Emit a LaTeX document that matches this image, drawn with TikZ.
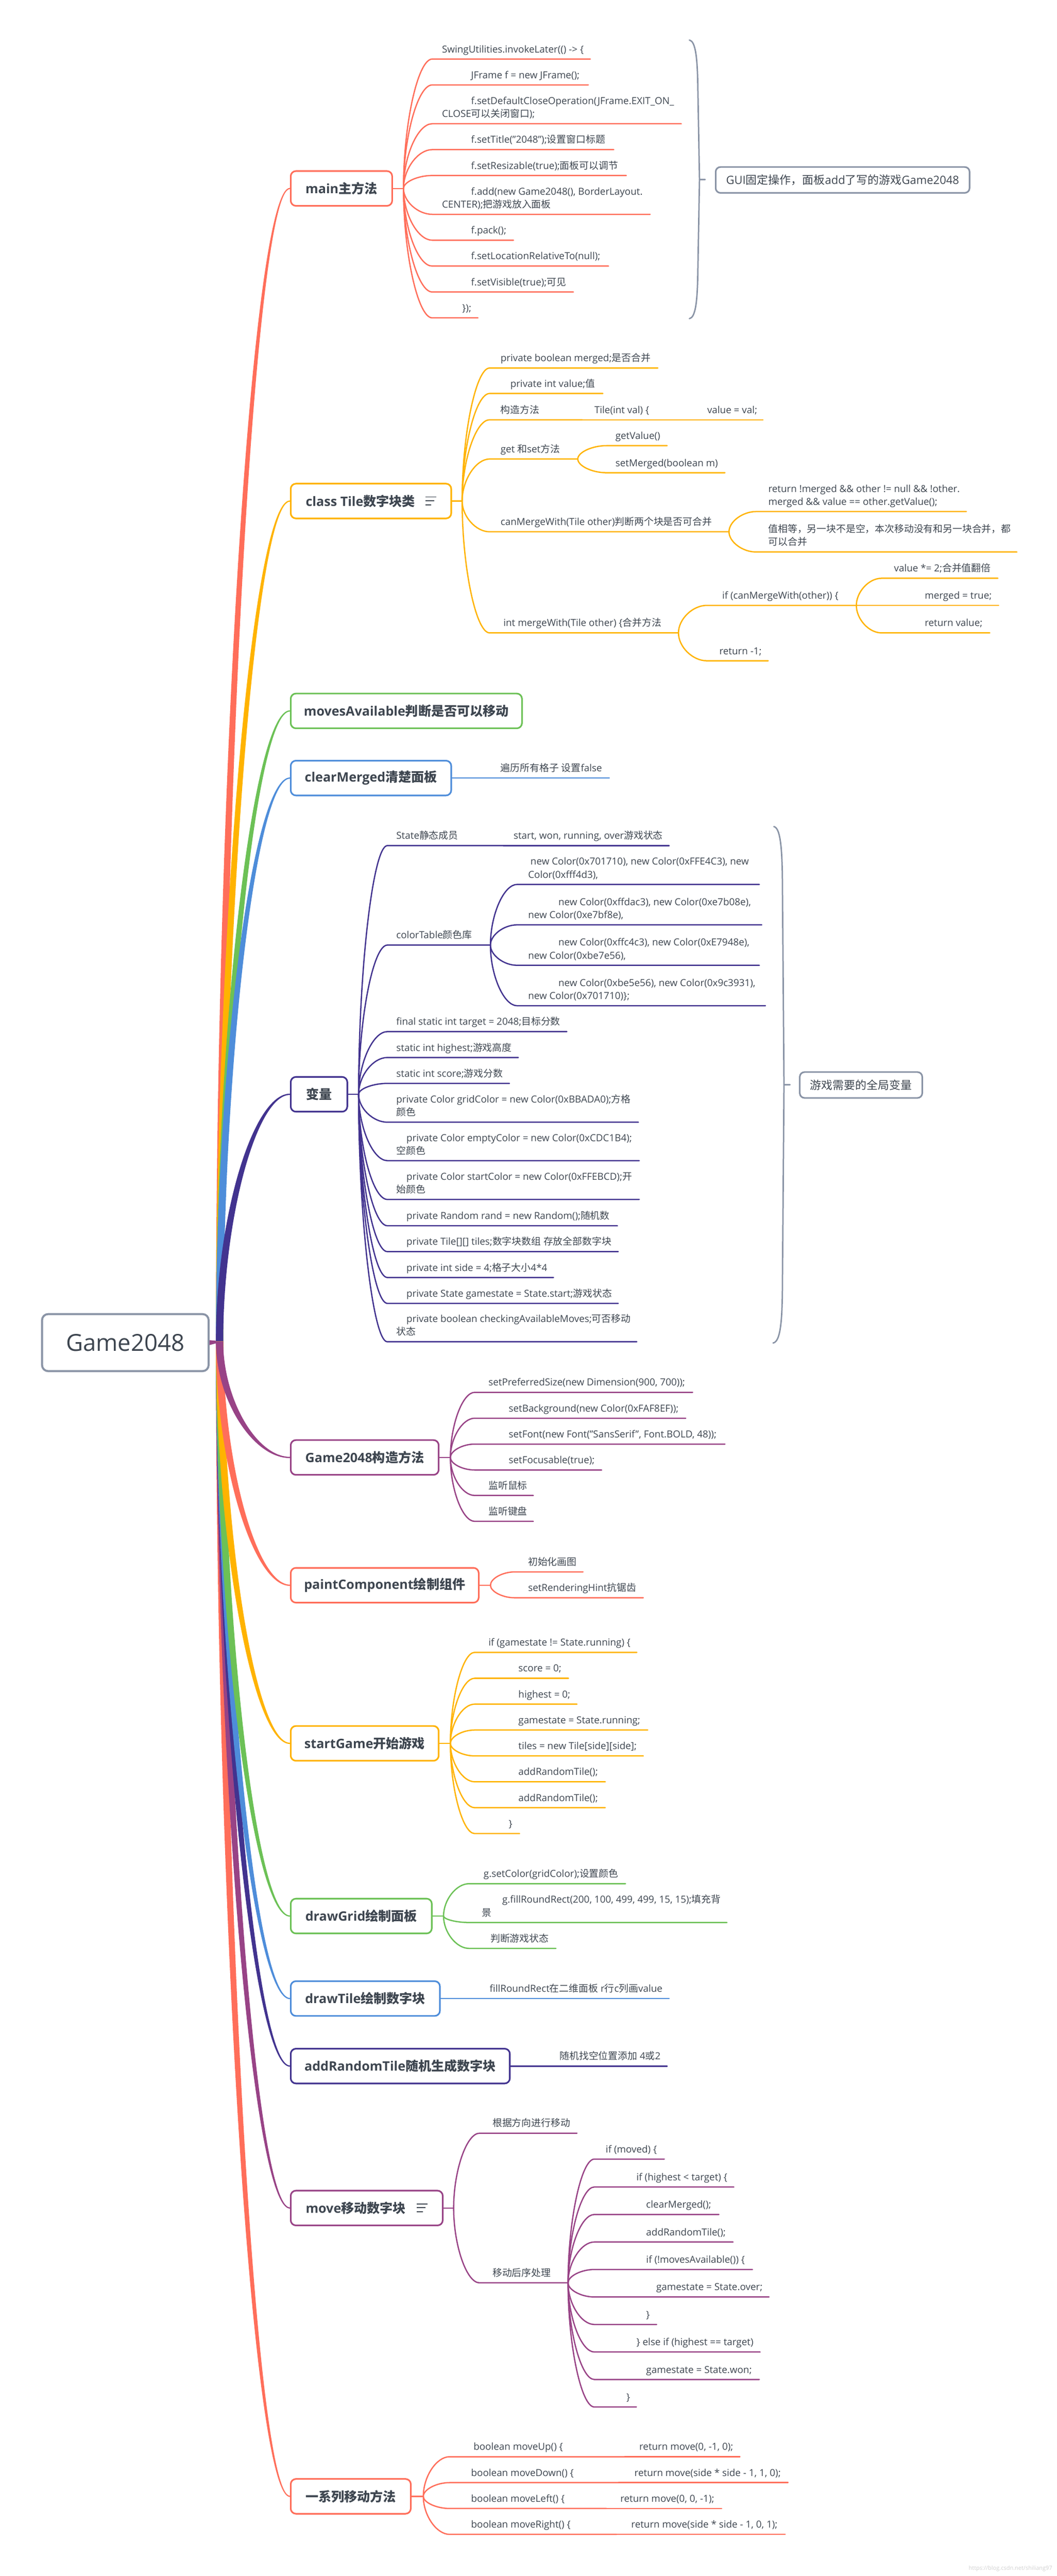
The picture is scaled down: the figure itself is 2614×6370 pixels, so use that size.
\documentclass[tikz,border=0pt]{standalone}
\usepackage{fontspec}
\setmainfont{Open Sans}
\newfontfamily\cjkfont{Noto Sans CJK SC}
\usetikzlibrary{calc}

\definecolor{mmcoral}{HTML}{FF6E5A}
\definecolor{mmyellow}{HTML}{FFB300}
\definecolor{mmgreen}{HTML}{6CC156}
\definecolor{mmblue}{HTML}{4E8DDA}
\definecolor{mmindigo}{HTML}{42338F}
\definecolor{mmplum}{HTML}{984386}
\definecolor{mmgray}{HTML}{8A94A6}
\definecolor{mmtext}{HTML}{3E4650}

% Chinese characters are set in the CJK family
\newcount\cjkcode
\newcommand{\cjkrange}[2]{%
  \cjkcode=#1\relax
  \loop
    \XeTeXcharclass\cjkcode=1\relax
  \ifnum\cjkcode<#2\relax
    \advance\cjkcode by 1\relax
  \repeat}
\cjkrange{"3000}{"303F}
\cjkrange{"4E00}{"9FFF}
\cjkrange{"FF00}{"FFEF}
\XeTeXinterchartokenstate=1
\XeTeXinterchartoks 0 1 = {\cjkfont}
\XeTeXinterchartoks 4095 1 = {\cjkfont}
\XeTeXinterchartoks 1 0 = {\rmfamily}
\XeTeXinterchartoks 1 4095 = {\rmfamily}

\tikzset{central/.style={draw=mmgray, line width=5pt, rounded corners=15pt, fill=white, text=mmtext, minimum width=412pt, minimum height=141pt, font=\fontsize{58}{64}\selectfont}}
\tikzset{topic/.style={draw=#1, line width=4pt, rounded corners=13pt, fill=white, text=mmtext, anchor=west, minimum height=86pt, inner xsep=0pt, font=\fontsize{32}{38}\selectfont\bfseries}}
\tikzset{summary/.style={draw=mmgray, line width=4pt, rounded corners=12pt, fill=white, text=mmtext, anchor=west, minimum height=64pt, inner xsep=0pt, font=\fontsize{28}{34}\selectfont}}
\tikzset{leaf/.style={anchor=base west, inner sep=0pt, yshift=16pt, text=mmtext, font=\fontsize{24}{32}\selectfont}}
\tikzset{twig/.style={draw=#1, line width=3.2pt, line cap=round, line join=round}}
\tikzset{bracket/.style={draw=mmgray, line width=3.5pt, line cap=round}}
\tikzset{fanout/.style={to path={.. controls ($(\tikztostart)!0.5!(\tikztostart |- \tikztotarget)$) and ($(\tikztotarget)!0.5!(\tikztostart |- \tikztotarget)$) .. (\tikztotarget)}}}
\tikzset{fanin/.style={to path={.. controls ($(\tikztostart)!0.5!(\tikztotarget |- \tikztostart)$) and ($(\tikztotarget)!0.5!(\tikztotarget |- \tikztostart)$) .. (\tikztotarget)}}}

\newcommand{\twoline}[2]{\vbox{\hbox{#1}\hbox{#2}}}
\newcommand{\notesicon}{\raisebox{2pt}{\vbox{\hrule width 27pt height 2.4pt\vskip 7pt\hrule width 22pt height 2.4pt\vskip 7.5pt\hrule width 15pt height 2.4pt}}}
\newcommand{\trunk}[3]{%
  \path ($(#2.west)+(0,#3)$) coordinate (#2-a) ($(#2.west)-(0,#3)$) coordinate (#2-b);
  \fill[#1] (hubl) to[fanout] (#2-a) -- (#2-b) to[fanin] (hubr) -- cycle;}
\newcommand{\leaf}[8]{%
  \coordinate (#2-s) at (#4,#6);
  \coordinate (#2-e) at (#5,#6);
  \node[leaf] (#2) at (#7,#6) {#8};
  \draw[twig=#1] (#3) to[fanout] (#2-s) -- (#2-e);}

\begin{document}
\begin{tikzpicture}[x=1pt,y=-1pt]
      \useasboundingbox (0,0) rectangle (2614,6370);

      \node[central] (root) at (310,3320) {Game2048};
      \coordinate (hubl) at (534,3317);
      \coordinate (hubr) at (552,3317);

      \node[topic=mmcoral, minimum width=251pt] (main) at (717,466) {main主方法};
      \node[topic=mmyellow, minimum width=397pt] (tile) at (717,1239) {class Tile数字块类\hspace{25pt}\notesicon};
      \node[topic=mmgreen, minimum width=572pt] (moves) at (717,1758) {movesAvailable判断是否可以移动};
      \node[topic=mmblue, minimum width=397pt] (clear) at (717,1924) {clearMerged清楚面板};
      \node[topic=mmindigo, minimum width=140pt] (vars) at (717,2706) {变量};
      \node[topic=mmplum, minimum width=366pt] (ctor) at (717,3604) {Game2048构造方法};
      \node[topic=mmcoral, minimum width=465pt] (paint) at (717,3920) {paintComponent绘制组件};
      \node[topic=mmyellow, minimum width=366pt] (startg) at (717,4311) {startGame开始游戏};
      \node[topic=mmgreen, minimum width=349pt] (grid) at (717,4738) {drawGrid绘制面板};
      \node[topic=mmblue, minimum width=369pt] (dtile) at (717,4942) {drawTile绘制数字块};
      \node[topic=mmindigo, minimum width=542pt] (addrt) at (717,5109) {addRandomTile随机生成数字块};
      \node[topic=mmplum, minimum width=376pt] (move) at (717,5460) {move移动数字块\hspace{27pt}\notesicon};
      \node[topic=mmcoral, minimum width=297pt] (series) at (717,6173) {一系列移动方法};

      \fill[mmplum] ($(root.east)+(0,-6)$) -- (hubr) -- ($(root.east)+(0,6)$) -- cycle;
      \trunk{mmcoral}{main}{-1.5}
      \trunk{mmyellow}{tile}{-1.5}
      \trunk{mmgreen}{moves}{-1.5}
      \trunk{mmblue}{clear}{-1.5}
      \trunk{mmindigo}{vars}{-1.5}
      \trunk{mmcoral}{series}{1.5}
      \trunk{mmplum}{move}{1.5}
      \trunk{mmindigo}{addrt}{1.5}
      \trunk{mmblue}{dtile}{1.5}
      \trunk{mmgreen}{grid}{1.5}
      \trunk{mmyellow}{startg}{1.5}
      \trunk{mmcoral}{paint}{1.5}
      \trunk{mmplum}{ctor}{1.5}

      \coordinate (j-main) at ($(main.east)+(26,0)$);
      \draw[twig=mmcoral] (main.east) -- (j-main);
      \leaf{mmcoral}{m1}{j-main}{1069}{1460}{146}{1093}{SwingUtilities.invokeLater(() -> \{}
      \leaf{mmcoral}{m2}{j-main}{1069}{1455}{210}{1165}{JFrame f = new JFrame();}
      \leaf{mmcoral}{m3}{j-main}{1069}{1685}{306}{1093}{\twoline{\hspace{72pt}f.setDefaultCloseOperation(JFrame.EXIT\_ON\_}{CLOSE可以关闭窗口);}}
      \leaf{mmcoral}{m4}{j-main}{1069}{1518}{370}{1165}{f.setTitle("2048");设置窗口标题}
      \leaf{mmcoral}{m5}{j-main}{1069}{1549}{434}{1165}{f.setResizable(true);面板可以调节}
      \leaf{mmcoral}{m6}{j-main}{1069}{1608}{530}{1093}{\twoline{\hspace{72pt}f.add(new Game2048(), BorderLayout.}{CENTER);把游戏放入面板}}
      \leaf{mmcoral}{m7}{j-main}{1069}{1270}{594}{1165}{f.pack();}
      \leaf{mmcoral}{m8}{j-main}{1069}{1505}{658}{1165}{f.setLocationRelativeTo(null);}
      \leaf{mmcoral}{m9}{j-main}{1069}{1418}{722}{1165}{f.setVisible(true);可见}
      \leaf{mmcoral}{m10}{j-main}{1069}{1182}{786}{1143}{\});}

      \draw[bracket] (1705,99) .. controls (1720,102) and (1725,140) .. (1726,220) -- (1730,444) -- (1726,668) .. controls (1725,748) and (1720,785) .. (1705,788);
      \draw[bracket] (1730,444) -- (1744,444);
      \node[summary, minimum width=628pt] (gui) at (1768,445) {GUI固定操作，面板add了写的游戏Game2048};

      \coordinate (j-tile) at ($(tile.east)+(25,0)$);
      \draw[twig=mmyellow] (tile.east) -- (j-tile);
      \leaf{mmyellow}{t1}{j-tile}{1211}{1627}{910}{1238}{private boolean merged;是否合并}
      \leaf{mmyellow}{t2}{j-tile}{1211}{1491}{973}{1262}{private int value;值}
      \leaf{mmyellow}{t3}{j-tile}{1211}{1440}{1038}{1238}{构造方法}
      \leaf{mmyellow}{t3a}{t3-e}{1440}{1725}{1038}{1470}{Tile(int val) \{}
      \leaf{mmyellow}{t3b}{t3a-e}{1725}{1887}{1038}{1749}{value = val;}
      \leaf{mmyellow}{t4}{j-tile}{1211}{1429}{1135}{1238}{get 和set方法}
      \leaf{mmyellow}{t4a}{t4-e}{1500}{1650}{1102}{1522}{getValue()}
      \leaf{mmyellow}{t4b}{t4-e}{1500}{1793}{1169}{1522}{setMerged(boolean m)}
      \leaf{mmyellow}{t5}{j-tile}{1211}{1803}{1315}{1238}{canMergeWith(Tile other)判断两个块是否可合并}
      \leaf{mmyellow}{t5a}{t5-e}{1870}{2390}{1265}{1900}{\twoline{return !merged \&\& other != null \&\& !other.}{merged \&\& value == other.getValue();}}
      \leaf{mmyellow}{t5b}{t5-e}{1870}{2515}{1365}{1900}{\twoline{值相等，另一块不是空，本次移动没有和另一块合并，都}{可以合并}}
      \leaf{mmyellow}{t6}{j-tile}{1211}{1678}{1565}{1245}{int mergeWith(Tile other) \{合并方法}
      \leaf{mmyellow}{t6a}{t6-e}{1748}{2118}{1497}{1786}{if (canMergeWith(other)) \{}
      \leaf{mmyellow}{t6b}{t6-e}{1748}{1900}{1634}{1779}{return -1;}
      \leaf{mmyellow}{t6c}{t6a-e}{2180}{2468}{1430}{2211}{value *= 2;合并值翻倍}
      \leaf{mmyellow}{t6d}{t6a-e}{2180}{2470}{1497}{2287}{merged = true;}
      \leaf{mmyellow}{t6f}{t6a-e}{2180}{2448}{1565}{2287}{return value;}

      \coordinate (j-clear) at (clear.east);
      \leaf{mmblue}{c1}{j-clear}{1150}{1507}{1924}{1238}{遍历所有格子 设置false}

      \coordinate (j-vars) at ($(vars.east)+(26,0)$);
      \draw[twig=mmindigo] (vars.east) -- (j-vars);
      \leaf{mmindigo}{v1}{j-vars}{958}{1245}{2091}{980}{State静态成员}
      \leaf{mmindigo}{v1a}{v1-e}{1245}{1655}{2091}{1270}{start, won, running, over游戏状态}
      \leaf{mmindigo}{v2}{j-vars}{958}{1213}{2337}{980}{colorTable颜色库}
      \leaf{mmindigo}{v2a}{v2-e}{1279}{1878}{2187}{1306}{\twoline{\hspace{6pt}new Color(0x701710), new Color(0xFFE4C3), new}{Color(0xfff4d3),}}
      \leaf{mmindigo}{v2b}{v2-e}{1279}{1884}{2287}{1306}{\twoline{\hspace{75pt}new Color(0xffdac3), new Color(0xe7b08e),}{new Color(0xe7bf8e),}}
      \leaf{mmindigo}{v2c}{v2-e}{1279}{1878}{2387}{1306}{\twoline{\hspace{75pt}new Color(0xffc4c3), new Color(0xE7948e),}{new Color(0xbe7e56),}}
      \leaf{mmindigo}{v2d}{v2-e}{1279}{1893}{2487}{1306}{\twoline{\hspace{75pt}new Color(0xbe5e56), new Color(0x9c3931),}{new Color(0x701710)\};}}
      \leaf{mmindigo}{v3}{j-vars}{958}{1402}{2551}{980}{final static int target = 2048;目标分数}
      \leaf{mmindigo}{v4}{j-vars}{958}{1282}{2615}{980}{static int highest;游戏高度}
      \leaf{mmindigo}{v5}{j-vars}{958}{1260}{2679}{980}{static int score;游戏分数}
      \leaf{mmindigo}{v6}{j-vars}{958}{1579}{2775}{980}{\twoline{private Color gridColor = new Color(0xBBADA0);方格}{颜色}}
      \leaf{mmindigo}{v7}{j-vars}{958}{1581}{2870}{980}{\twoline{\hspace{25pt}private Color emptyColor = new Color(0xCDC1B4);}{空颜色}}
      \leaf{mmindigo}{v8}{j-vars}{958}{1581}{2966}{980}{\twoline{\hspace{25pt}private Color startColor = new Color(0xFFEBCD);开}{始颜色}}
      \leaf{mmindigo}{v9}{j-vars}{958}{1527}{3031}{1005}{private Random rand = new Random();随机数}
      \leaf{mmindigo}{v10}{j-vars}{958}{1529}{3095}{1005}{private Tile[][] tiles;数字块数组 存放全部数字块}
      \leaf{mmindigo}{v11}{j-vars}{958}{1369}{3159}{1005}{private int side = 4;格子大小4*4}
      \leaf{mmindigo}{v12}{j-vars}{958}{1529}{3223}{1005}{private State gamestate = State.start;游戏状态}
      \leaf{mmindigo}{v13}{j-vars}{958}{1575}{3318}{980}{\twoline{\hspace{25pt}private boolean checkingAvailableMoves;可否移动}{状态}}

      \draw[bracket] (1914,2044) .. controls (1929,2047) and (1934,2090) .. (1935,2170) -- (1939,2682) -- (1935,3195) .. controls (1934,3275) and (1929,3318) .. (1912,3321);
      \draw[bracket] (1939,2682) -- (1954,2682);
      \node[summary, minimum width=303pt] (globals) at (1976,2683) {游戏需要的全局变量};

      \coordinate (j-ctor) at ($(ctor.east)+(27,0)$);
      \draw[twig=mmplum] (ctor.east) -- (j-ctor);
      \leaf{mmplum}{g1}{j-ctor}{1174}{1713}{3443}{1208}{setPreferredSize(new Dimension(900, 700));}
      \leaf{mmplum}{g2}{j-ctor}{1174}{1696}{3507}{1258}{setBackground(new Color(0xFAF8EF));}
      \leaf{mmplum}{g3}{j-ctor}{1174}{1793}{3571}{1258}{setFont(new Font("SansSerif", Font.BOLD, 48));}
      \leaf{mmplum}{g4}{j-ctor}{1174}{1488}{3635}{1258}{setFocusable(true);}
      \leaf{mmplum}{g5}{j-ctor}{1174}{1319}{3698}{1208}{监听鼠标}
      \leaf{mmplum}{g6}{j-ctor}{1174}{1319}{3762}{1208}{监听键盘}

      \coordinate (j-paint) at ($(paint.east)+(27,0)$);
      \draw[twig=mmcoral] (paint.east) -- (j-paint);
      \leaf{mmcoral}{p1}{j-paint}{1273}{1442}{3887}{1306}{初始化画图}
      \leaf{mmcoral}{p2}{j-paint}{1273}{1591}{3951}{1306}{setRenderingHint抗锯齿}

      \coordinate (j-startg) at ($(startg.east)+(27,0)$);
      \draw[twig=mmyellow] (startg.east) -- (j-startg);
      \leaf{mmyellow}{s1}{j-startg}{1174}{1575}{4086}{1208}{if (gamestate != State.running) \{}
      \leaf{mmyellow}{s2}{j-startg}{1174}{1406}{4150}{1282}{score = 0;}
      \leaf{mmyellow}{s3}{j-startg}{1174}{1427}{4214}{1282}{highest = 0;}
      \leaf{mmyellow}{s4}{j-startg}{1174}{1602}{4278}{1282}{gamestate = State.running;}
      \leaf{mmyellow}{s5}{j-startg}{1174}{1591}{4342}{1282}{tiles = new Tile[side][side];}
      \leaf{mmyellow}{s6}{j-startg}{1174}{1497}{4406}{1282}{addRandomTile();}
      \leaf{mmyellow}{s7}{j-startg}{1174}{1497}{4470}{1282}{addRandomTile();}
      \leaf{mmyellow}{s8}{j-startg}{1174}{1285}{4534}{1258}{\}}

      \coordinate (j-grid) at ($(grid.east)+(27,0)$);
      \draw[twig=mmgreen] (grid.east) -- (j-grid);
      \leaf{mmgreen}{d1}{j-grid}{1160}{1547}{4658}{1196}{g.setColor(gridColor);设置颜色}
      \leaf{mmgreen}{d2}{j-grid}{1160}{1798}{4754}{1192}{\twoline{\hspace{50pt}g.fillRoundRect(200, 100, 499, 499, 15, 15);填充背}{景}}
      \leaf{mmgreen}{d3}{j-grid}{1160}{1375}{4818}{1213}{判断游戏状态}

      \coordinate (j-dtile) at (dtile.east);
      \leaf{mmblue}{e1}{j-dtile}{1120}{1655}{4942}{1211}{fillRoundRect在二维面板 r行c列画value}

      \coordinate (j-addrt) at (addrt.east);
      \leaf{mmindigo}{a1}{j-addrt}{1290}{1650}{5109}{1384}{随机找空位置添加 4或2}

      \coordinate (j-move) at ($(move.east)+(25,0)$);
      \draw[twig=mmplum] (move.east) -- (j-move);
      \leaf{mmplum}{k1}{j-move}{1186}{1427}{5275}{1218}{根据方向进行移动}
      \leaf{mmplum}{k2}{j-move}{1186}{1405}{5645}{1218}{移动后序处理}
      \leaf{mmplum}{k2a}{k2-e}{1470}{1643}{5339}{1498}{if (moved) \{}
      \leaf{mmplum}{k2b}{k2-e}{1470}{1815}{5408}{1574}{if (highest < target) \{}
      \leaf{mmplum}{k2c}{k2-e}{1470}{1778}{5476}{1598}{clearMerged();}
      \leaf{mmplum}{k2d}{k2-e}{1470}{1813}{5544}{1598}{addRandomTile();}
      \leaf{mmplum}{k2f}{k2-e}{1470}{1861}{5612}{1598}{if (!movesAvailable()) \{}
      \leaf{mmplum}{k2g}{k2-e}{1470}{1902}{5680}{1623}{gamestate = State.over;}
      \leaf{mmplum}{k2h}{k2-e}{1470}{1624}{5748}{1598}{\}}
      \leaf{mmplum}{k2i}{k2-e}{1470}{1880}{5816}{1574}{\} else if (highest == target)}
      \leaf{mmplum}{k2j}{k2-e}{1470}{1878}{5884}{1598}{gamestate = State.won;}
      \leaf{mmplum}{k2k}{k2-e}{1470}{1574}{5952}{1549}{\}}

      \coordinate (j-series) at ($(series.east)+(29,0)$);
      \draw[twig=mmcoral] (series.east) -- (j-series);
      \leaf{mmcoral}{r1}{j-series}{1112}{1545}{6075}{1171}{boolean moveUp() \{}
      \leaf{mmcoral}{r1a}{r1-e}{1545}{1830}{6075}{1581}{return move(0, -1, 0);}
      \leaf{mmcoral}{r2}{j-series}{1112}{1530}{6139}{1165}{boolean moveDown() \{}
      \leaf{mmcoral}{r2a}{r2-e}{1530}{1949}{6139}{1569}{return move(side * side - 1, 1, 0);}
      \leaf{mmcoral}{r3}{j-series}{1112}{1500}{6203}{1165}{boolean moveLeft() \{}
      \leaf{mmcoral}{r3a}{r3-e}{1500}{1785}{6203}{1534}{return move(0, 0, -1);}
      \leaf{mmcoral}{r4}{j-series}{1112}{1525}{6267}{1165}{boolean moveRight() \{}
      \leaf{mmcoral}{r4a}{r4-e}{1525}{1942}{6267}{1561}{return move(side * side - 1, 0, 1);}

      \node[anchor=east, text=black!18, font=\fontsize{14}{16}\selectfont] (mark) at (2606,6351) {https://blog.csdn.net/shiliang97};
\end{tikzpicture}
\end{document}
